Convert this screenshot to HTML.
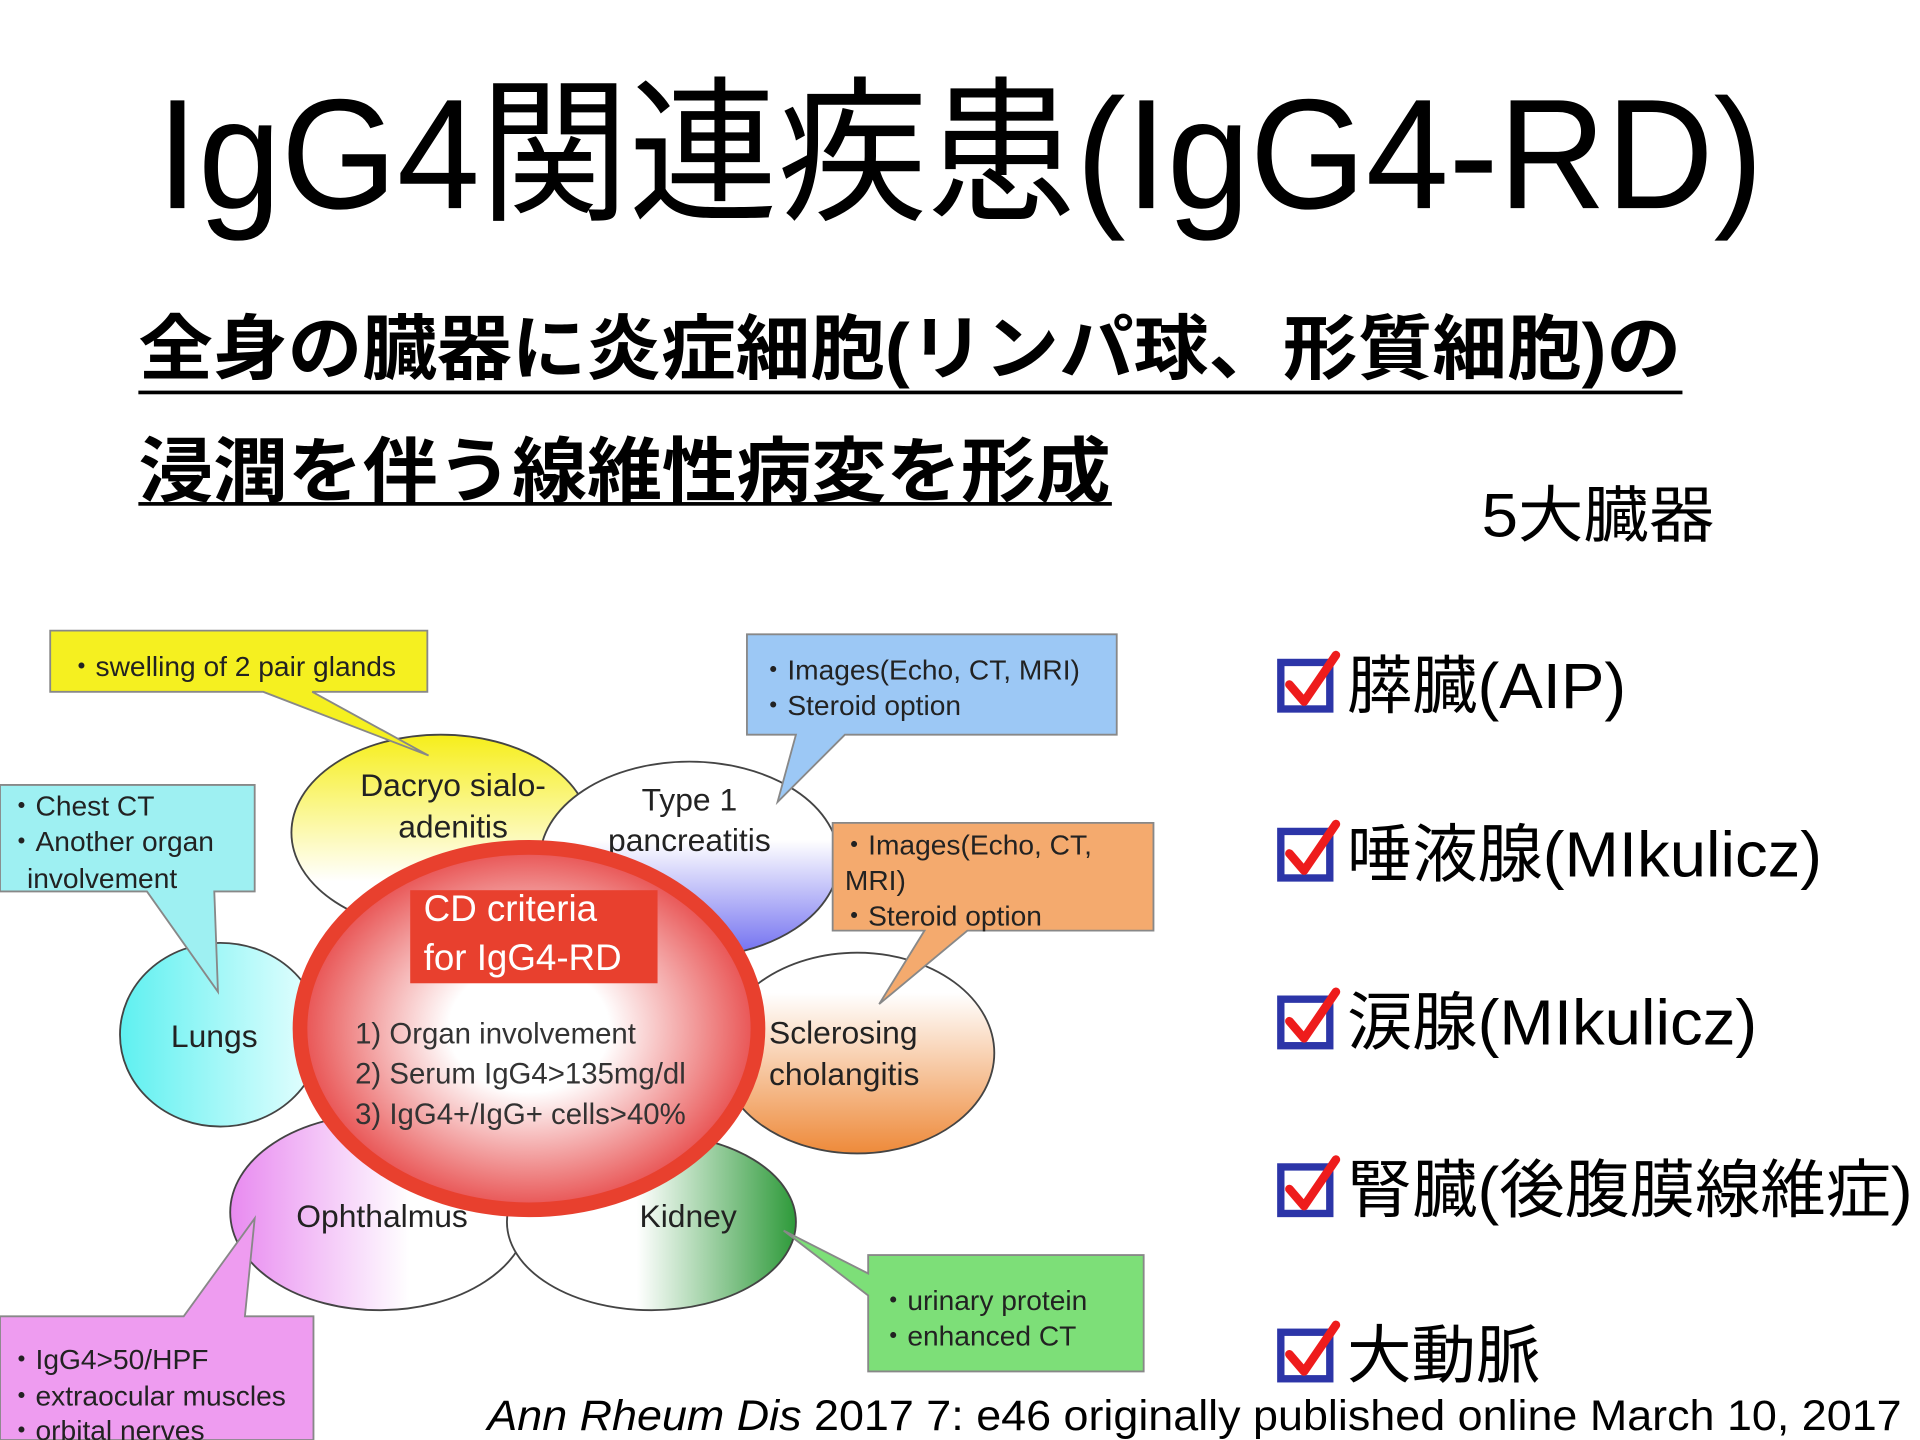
<!DOCTYPE html>
<html><head><meta charset="utf-8"><style>
html,body{margin:0;padding:0;background:#fff;}
svg{display:block;}
text{font-family:"Liberation Sans","Noto Sans CJK JP",sans-serif;}
</style></head><body>
<svg width="1920" height="1440" viewBox="0 0 1568 1176" xmlns="http://www.w3.org/2000/svg">
<defs>
<linearGradient id="gy" x1="0" y1="0" x2="0" y2="1"><stop offset="0" stop-color="#f6ee1a"/><stop offset="0.75" stop-color="#fff"/></linearGradient>
<linearGradient id="gb" x1="0" y1="0" x2="0" y2="1"><stop offset="0.4" stop-color="#fff"/><stop offset="1" stop-color="#6e6cf0"/></linearGradient>
<linearGradient id="gc" x1="0" y1="0" x2="1" y2="0"><stop offset="0" stop-color="#5ef0f0"/><stop offset="1" stop-color="#eaffff"/></linearGradient>
<linearGradient id="go" x1="0" y1="0" x2="0" y2="1"><stop offset="0.2" stop-color="#fff"/><stop offset="1" stop-color="#ee8a3a"/></linearGradient>
<linearGradient id="gp" x1="0" y1="0" x2="1" y2="0"><stop offset="0" stop-color="#e88af0"/><stop offset="0.6" stop-color="#fff"/></linearGradient>
<linearGradient id="gg" x1="0" y1="0" x2="1" y2="0"><stop offset="0.45" stop-color="#fff"/><stop offset="1" stop-color="#2e9a3a"/></linearGradient>
<radialGradient id="gr" cx="0.5" cy="0.5" r="0.5"><stop offset="0.35" stop-color="#fff"/><stop offset="1" stop-color="#e85050"/></radialGradient>
<g id="chk"><rect x="3" y="8" width="40" height="38" fill="none" stroke="#2c35a8" stroke-width="6"/><path d="M10 26 L22 40 L48 2" fill="none" stroke="#ee1c1c" stroke-width="7" stroke-linecap="round" stroke-linejoin="round"/></g>
</defs>

<text x="128" y="170" font-size="128" textLength="1312" lengthAdjust="spacingAndGlyphs">IgG4関連疾患(IgG4-RD)</text>
<text x="113" y="305" font-size="58" font-weight="bold" textLength="1260" lengthAdjust="spacingAndGlyphs">全身の臓器に炎症細胞(リンパ球、形質細胞)の</text>
<rect x="113" y="319" width="1261" height="3" fill="#000"/>
<text x="113" y="405" font-size="58" font-weight="bold" textLength="794" lengthAdjust="spacingAndGlyphs">浸潤を伴う線維性病変を形成</text>
<rect x="113" y="410" width="795" height="3" fill="#000"/>
<text x="1210" y="438" font-size="50" textLength="190" lengthAdjust="spacingAndGlyphs">5大臓器</text>

<use href="#chk" x="1043" y="533"/><text x="1100" y="578" font-size="52" textLength="228" lengthAdjust="spacingAndGlyphs">膵臓(AIP)</text>
<use href="#chk" x="1043" y="671"/><text x="1100" y="716" font-size="52" textLength="388" lengthAdjust="spacingAndGlyphs">唾液腺(MIkulicz)</text>
<use href="#chk" x="1043" y="808"/><text x="1100" y="853" font-size="52" textLength="335" lengthAdjust="spacingAndGlyphs">涙腺(MIkulicz)</text>
<use href="#chk" x="1043" y="945"/><text x="1100" y="990" font-size="52" textLength="462" lengthAdjust="spacingAndGlyphs">腎臓(後腹膜線維症)</text>
<use href="#chk" x="1043" y="1080"/><text x="1100" y="1125" font-size="52" textLength="158" lengthAdjust="spacingAndGlyphs">大動脈</text>

<!-- petals -->
<g stroke="#444" stroke-width="1.5">
<ellipse cx="360" cy="680" rx="122" ry="80" fill="url(#gy)"/>
<ellipse cx="563" cy="702" rx="122" ry="80" fill="url(#gb)"/>
<ellipse cx="180" cy="845" rx="82" ry="75" fill="url(#gc)"/>
<ellipse cx="700" cy="860" rx="112" ry="82" fill="url(#go)"/>
<ellipse cx="310" cy="990" rx="122" ry="80" fill="url(#gp)"/>
<ellipse cx="532" cy="998" rx="118" ry="72" fill="url(#gg)"/>
</g>
<g font-size="26" fill="#222" text-anchor="middle">
<text x="370" y="650">Dacryo sialo-</text><text x="370" y="684">adenitis</text>
<text x="563" y="662">Type 1</text><text x="563" y="695">pancreatitis</text>
<text x="175" y="855">Lungs</text>
<text x="312" y="1002">Ophthalmus</text>
<text x="562" y="1002">Kidney</text>
</g>
<g font-size="26" fill="#222"><text x="628" y="852">Sclerosing</text><text x="628" y="886">cholangitis</text></g>

<ellipse cx="432" cy="840" rx="187" ry="148" fill="url(#gr)" stroke="#e8402e" stroke-width="12"/>
<rect x="335" y="727" width="202" height="76" fill="#e8402e"/>
<text x="346" y="752" font-size="30" fill="#fff">CD criteria</text>
<text x="346" y="792" font-size="30" fill="#fff">for IgG4-RD</text>
<g font-size="24" fill="#333"><text x="290" y="852">1)  Organ involvement</text><text x="290" y="885">2)  Serum IgG4&gt;135mg/dl</text><text x="290" y="918">3)  IgG4+/IgG+ cells&gt;40%</text></g>

<!-- callouts -->
<g stroke="#888" stroke-width="1.5" font-size="24" fill="#222">
<path d="M41 515 H349 V565 H255 L350 617 L215 565 H41 Z" fill="#f5f020"/>
<path d="M610 518 H912 V600 H690 L635 655 L650 600 H610 Z" fill="#9cc8f5"/>
<path d="M0 641 H208 V728 H175 L178 810 L120 728 H0 Z" fill="#9ef0f2"/>
<path d="M680 672 H942 V760 H790 L718 820 L755 760 H680 Z" fill="#f4aa6e"/>
<path d="M709 1025 H934 V1120 H709 V1058 L640 1005 L709 1040 Z" fill="#7ddf78"/>
<path d="M0 1075 H150 L208 995 L200 1075 H256 V1176 H0 Z" fill="#ee9cf0"/>
</g>
<g font-size="23" fill="#222">
<text x="55" y="552">・swelling of 2 pair glands</text>
<text x="620" y="555">・Images(Echo, CT, MRI)</text><text x="620" y="584">・Steroid option</text>
<text x="6" y="666">・Chest CT</text><text x="6" y="695">・Another organ</text><text x="22" y="725">involvement</text>
<text x="686" y="698">・Images(Echo, CT,</text><text x="690" y="727">MRI)</text><text x="686" y="756">・Steroid option</text>
<text x="718" y="1070">・urinary protein</text><text x="718" y="1099">・enhanced CT</text>
<text x="6" y="1118">・IgG4&gt;50/HPF</text><text x="6" y="1148">・extraocular muscles</text><text x="6" y="1176">・orbital nerves</text>
</g>

<text x="398" y="1168" font-size="35" textLength="1155" lengthAdjust="spacingAndGlyphs"><tspan font-style="italic">Ann Rheum Dis</tspan> 2017 7: e46 originally published online March 10, 2017</text>
</svg>
</body></html>
